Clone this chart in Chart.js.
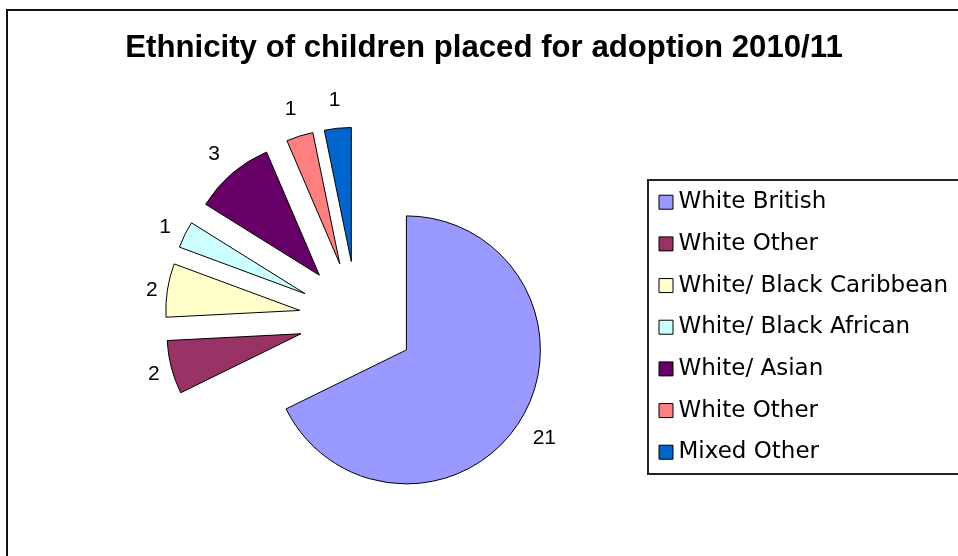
<!DOCTYPE html>
<html>
<head>
<meta charset="utf-8">
<script src="https://cdn.jsdelivr.net/npm/chart.js@4.4.0/dist/chart.umd.min.js"></script>
<style>
html,body{margin:0;padding:0;background:#fff;overflow:hidden;}
#wrap{position:relative;width:958px;height:556px;}
#frame{position:absolute;left:6px;top:9px;width:1000px;height:600px;border-left:2px solid #111;border-top:2px solid #111;}
#pie{position:absolute;left:0;top:0;}
</style>
</head>
<body>
<div id="wrap">
  <div id="frame"></div>
  <canvas id="pie" width="958" height="556"></canvas>
</div>
<script>
/* ===== 資料 ===== */
const titleText='Ethnicity of children placed for adoption 2010/11';
const groups=['White British','White Other','White/ Black Caribbean','White/ Black African','White/ Asian','White Other','Mixed Other'];
const counts=[21,2,2,1,3,1,1];
const sliceColors=['#9999FF','#993366','#FFFFCC','#CCFFFF','#660066','#FF8080','#0066CC'];

/* ===== 左側留白：圓餅右移，標題仍置中 ===== */
const leftSpacer={
  id:'leftSpacer',
  beforeInit(chart){
    Chart.layouts.addBox(chart,{
      position:'left', weight:0, fullSize:false, options:{display:false},
      width:0, height:0,
      isHorizontal(){ return false; },
      update(maxW,maxH){ this.width=58; this.height=maxH; },
      draw(){}
    });
  }
};

/* ===== 爆炸式扇形：沿中線平移 ===== */
const explode={
  id:'explode',
  beforeDatasetDraw(chart,args){
    const ctx=chart.ctx;
    args.meta.data.forEach(arc=>{
      const {x,y,startAngle,endAngle,outerRadius}=arc;
      const o=arc.options;
      const mid=(startAngle+endAngle)/2;
      const cx=x+Math.cos(mid)*o.offset, cy=y+Math.sin(mid)*o.offset;
      ctx.save();
      ctx.beginPath();
      ctx.moveTo(cx,cy);
      ctx.arc(cx,cy,outerRadius,startAngle,endAngle);
      ctx.closePath();
      ctx.fillStyle=o.backgroundColor; ctx.fill();
      ctx.lineWidth=o.borderWidth; ctx.strokeStyle=o.borderColor; ctx.stroke();
      ctx.restore();
    });
    return false;
  }
};

/* ===== 數值標籤（放在扇形外側） ===== */
const valueLabels={
  id:'valueLabels',
  afterDatasetsDraw(chart){
    const ctx=chart.ctx;
    const meta=chart.getDatasetMeta(0);
    ctx.save();
    ctx.font='21px "Liberation Sans", Arial, sans-serif';
    ctx.fillStyle='#000'; ctx.textAlign='center'; ctx.textBaseline='middle';
    meta.data.forEach((arc,i)=>{
      const {x,y,startAngle,endAngle,outerRadius}=arc;
      const mid=(startAngle+endAngle)/2;
      const cx=x+Math.cos(mid)*arc.options.offset, cy=y+Math.sin(mid)*arc.options.offset;
      const txt=String(counts[i]);
      const halfW=ctx.measureText(txt).width/2;
      const d=outerRadius+6.5+Math.abs(Math.cos(mid))*halfW+23*Math.abs(Math.sin(mid));
      ctx.fillText(txt, cx+Math.cos(mid)*d, cy+Math.sin(mid)*d+2);
    });
    ctx.restore();
  }
};

/* ===== 圖例外框 ===== */
const legendFrame={
  id:'legendFrame',
  afterDraw(chart){
    const hb=chart.legend.legendHitBoxes;
    if(!hb||!hb.length) return;
    const first=hb[0], last=hb[hb.length-1];
    const top=first.top-10.5, bottom=last.top+last.height+10.5;
    const ctx=chart.ctx;
    ctx.save();
    ctx.lineWidth=2; ctx.strokeStyle='#222';
    ctx.strokeRect(Math.round(first.left-17), Math.round(top), 400, Math.round(bottom-top));
    ctx.restore();
  }
};

new Chart(document.getElementById('pie'),{
  type:'pie',
  data:{
    labels:groups,
    datasets:[{
      data:counts,
      backgroundColor:sliceColors,
      borderColor:'#000',
      borderWidth:1,
      offset:58,
      radius:134
    }]
  },
  options:{
    responsive:false,
    animation:false,
    events:[],
    layout:{padding:{left:10,right:0,top:0,bottom:8}},
    plugins:{
      title:{
        display:true, text:titleText, color:'#000',
        font:{family:'"Liberation Sans", Arial, sans-serif', size:31.2, weight:'bold'},
        padding:{top:30,bottom:23}
      },
      legend:{
        position:'right', align:'center', fullSize:false,
        title:{display:true, text:'', font:{size:10,lineHeight:1}, padding:{top:0,bottom:6}},
        labels:{
          usePointStyle:true, pointStyle:'rect', boxWidth:2, boxHeight:14,
          padding:18.67, color:'#000',
          font:{family:'"DejaVu Sans", sans-serif', size:23}
        }
      },
      tooltip:{enabled:false}
    }
  },
  plugins:[leftSpacer, explode, valueLabels, legendFrame]
});
</script>
</body>
</html>
